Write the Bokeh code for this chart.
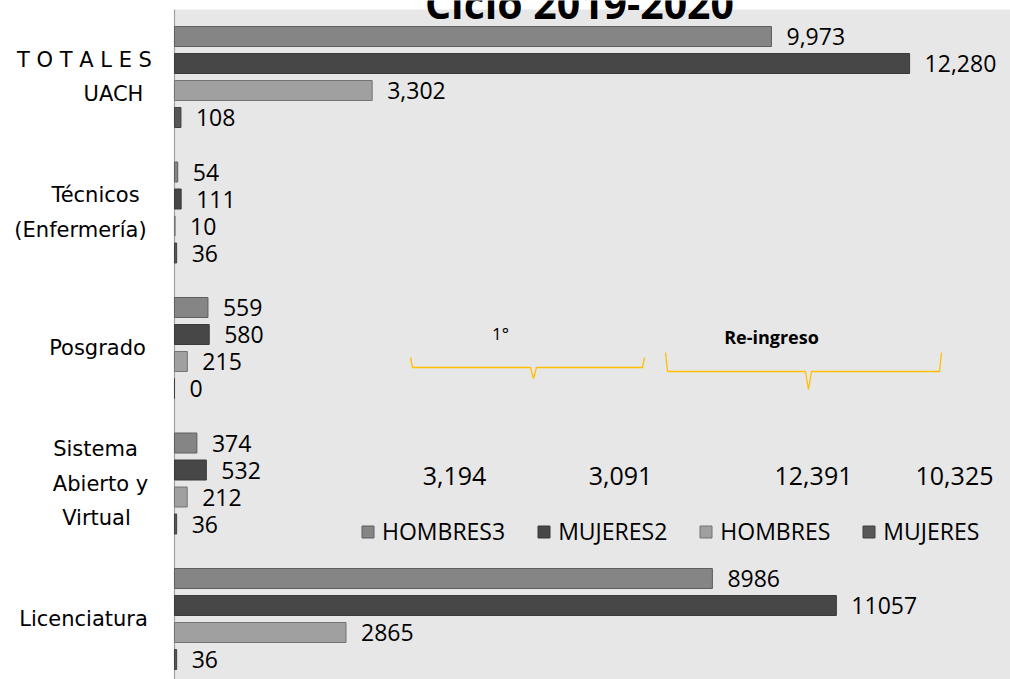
from bokeh.plotting import figure
from bokeh.models import Range1d, Legend, LegendItem, ColumnDataSource, BoxAnnotation
from bokeh.core.properties import value
from bokeh.embed import file_html
from bokeh.resources import INLINE

# ---------------- data ----------------
categories = ["T O T A L E S\nUACH", "Técnicos\n(Enfermería)", "Posgrado",
              "Sistema\nAbierto y\nVirtual", "Licenciatura"]
series_names = ["HOMBRES3", "MUJERES2", "HOMBRES", "MUJERES"]
hombres3 = [9973, 54, 559, 374, 8986]
mujeres2 = [12280, 111, 580, 532, 11057]
hombres = [3302, 10, 215, 212, 2865]
mujeres = [108, 36, 0, 36, 36]
use_commas = [True, False, False, False, False]

group_names = ["1°", "Re-ingreso"]
group_totals = [3194, 3091, 12391, 10325]
title_text = "Ciclo 2019-2020"

# ---------------- layout (pixel geometry) ----------------
W, H = 1010, 679
AXIS_PX = 174            # where value 0 sits
AREA_TOP_PX = 9          # top of the grey plot area
PX_PER_UNIT_X = 0.05986
BLOCK_PX = 135.5
FIRST_BLOCK_PX = 76.5

def X(px):
    return (px - AXIS_PX) / PX_PER_UNIT_X

def Y(py):
    return (len(categories) - 1) - (py - FIRST_BLOCK_PX) / BLOCK_PX

n = len(categories)
cat_y = [n - 1 - i for i in range(n)]
step = 27 / BLOCK_PX
bar_h = 20 / BLOCK_PX
offsets = [1.5 * step, 0.5 * step, -0.5 * step, -1.5 * step]

fills = ["#858585", "#474747", "#a0a0a0", "#575757"]
lines = ["#5e5e5e", "#3a3a3a", "#737373", "#404040"]

p = figure(width=W, height=H,
           x_range=Range1d(X(0), X(W)), y_range=Range1d(Y(H), Y(0)),
           output_backend="svg", toolbar_location=None,
           min_border_left=0, min_border_right=0,
           min_border_top=0, min_border_bottom=0)
p.background_fill_color = "white"
p.border_fill_color = "white"
p.outline_line_color = None
p.axis.visible = False
p.grid.visible = False

# plot area (grey) and value axis line
p.add_layout(BoxAnnotation(left=0, top=Y(AREA_TOP_PX), fill_color="#e7e7e7", fill_alpha=1,
                           line_alpha=0, level="underlay"))
p.line([0, 0], [Y(AREA_TOP_PX), Y(H)], line_color="#a0a0a0", line_width=1.2)

# category labels (one text per line, centred like the original)
line_cx = [[84, 113], [95, 80], [97], [95, 100, 96], [83]]
LINE_PX = 34.5
lab_x, lab_y, lab_t = [], [], []
for cat, cy, cxs in zip(categories, cat_y, line_cx):
    parts = cat.split("\n")
    centre_px = FIRST_BLOCK_PX + (n - 1 - cy) * BLOCK_PX
    top_px = centre_px - (len(parts) - 1) * LINE_PX / 2
    for j, (txt, cx) in enumerate(zip(parts, cxs)):
        lab_x.append(X(cx))
        lab_y.append(Y(top_px + j * LINE_PX))
        lab_t.append(txt)
p.text(x=lab_x, y=lab_y, text=lab_t, text_align="center", text_baseline="middle",
       text_font=value("DejaVu Sans"), text_font_size="21px", text_color="#000000")

series = [hombres3, mujeres2, hombres, mujeres]
renderers = []
for k, vals in enumerate(series):
    ys = [cy + offsets[k] for cy in cat_y]
    labels = [f"{v:,}" if c else str(v) for v, c in zip(vals, use_commas)]
    src = ColumnDataSource(dict(y=ys, right=vals, lab=labels))
    r = p.hbar(y="y", right="right", left=0, height=bar_h, source=src,
               fill_color=fills[k], line_color=lines[k], line_width=1)
    renderers.append(r)
    p.text(x="right", y="y", text="lab", source=src, x_offset=15,
           text_baseline="middle", text_align="left",
           text_font=value("Open Sans"), text_font_size="23px", text_color="#000000")

legend = Legend(items=[LegendItem(label=nm, renderers=[r]) for nm, r in zip(series_names, renderers)],
                orientation="horizontal", location=(360, 132),
                background_fill_alpha=0, border_line_alpha=0,
                label_text_font="Open Sans", label_text_font_size="23px",
                label_text_color="#000000",
                glyph_width=15, glyph_height=15, spacing=31, padding=0, margin=0,
                label_standoff=7)
p.add_layout(legend)

# braces
brace_color = "#ffc000"
brace_specs = [  # left, right, tip x, end top, line, tip (px)
    (410, 644, 533, 357, 367, 378),
    (665, 941, 808, 352, 371, 389),
]
for (l, r_, m, yt, yl, ytp) in brace_specs:
    xs = [l, l + 2, m - 3, m, m + 3, r_ - 2, r_]
    ys_ = [yt, yl, yl, ytp, yl, yl, yt]
    p.line([X(v) for v in xs], [Y(v) for v in ys_], line_color=brace_color, line_width=1.3)

p.text(x=[X(500)], y=[Y(333)], text=[group_names[0]], text_align="center", text_baseline="middle",
       text_font=value("Open Sans"), text_font_size="17px", text_color="#000000")
p.text(x=[X(771)], y=[Y(336)], text=[group_names[1]], text_align="center", text_baseline="middle",
       text_font=value("Open Sans"), text_font_size="18px", text_font_style="bold", text_color="#000000")

tot_x_px = [454, 620, 813, 954]
p.text(x=[X(v) for v in tot_x_px], y=[Y(475)] * 4, text=[f"{v:,}" for v in group_totals],
       text_align="center", text_baseline="middle",
       text_font=value("Open Sans"), text_font_size="25px", text_color="#000000")

p.text(x=[X(579)], y=[Y(2)], text=[title_text], text_align="center", text_baseline="alphabetic",
       text_font=value("Open Sans"), text_font_size="41px", text_font_style="bold", text_color="#000000")

open("out.html", "w").write(file_html(p, INLINE))
